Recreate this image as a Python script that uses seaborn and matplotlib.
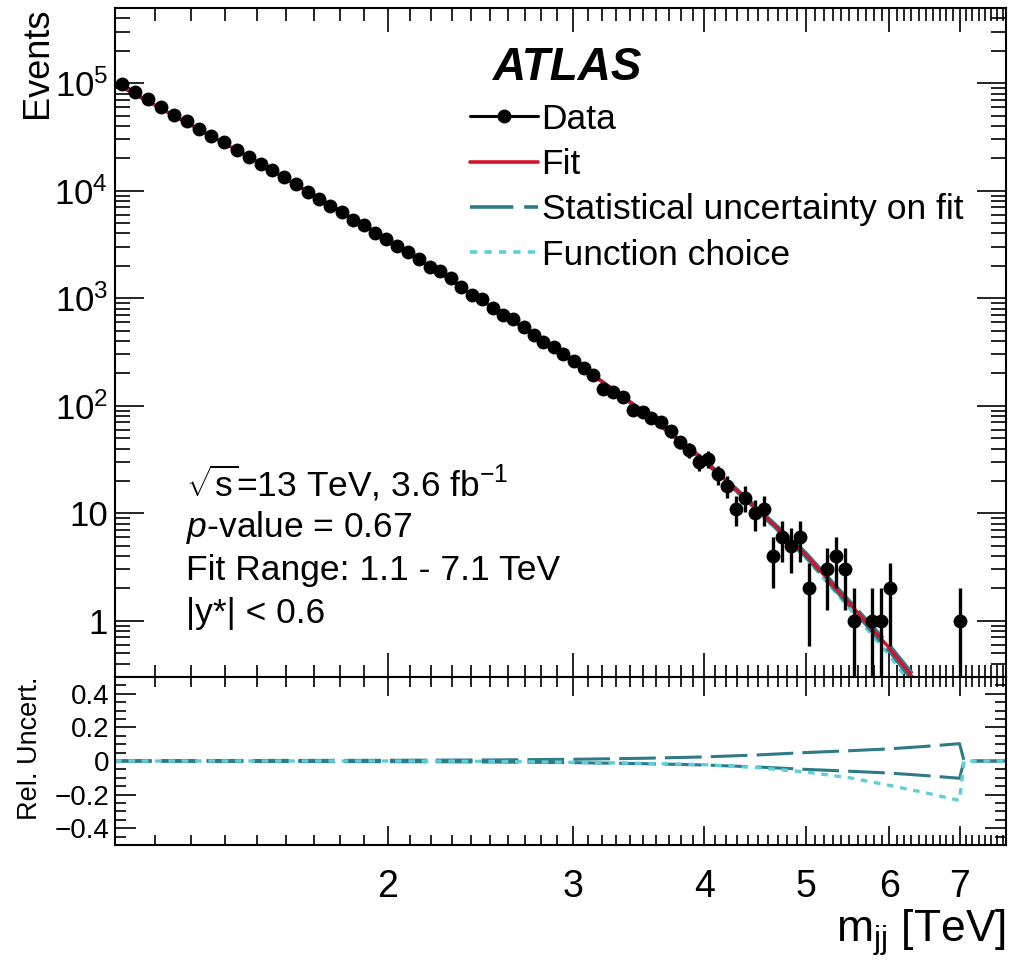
import numpy as np
import pandas as pd
import seaborn as sns
import matplotlib.pyplot as plt
from matplotlib.lines import Line2D
from matplotlib.ticker import FixedLocator, FuncFormatter, MultipleLocator, LogLocator, NullFormatter

# dijet mass bin centres [TeV] and events (empty bins left out)
mass = [1.116, 1.149, 1.183, 1.216, 1.252, 1.288, 1.322, 1.359, 1.397, 1.436,
        1.475, 1.514, 1.553, 1.592, 1.636, 1.678, 1.720, 1.763, 1.808, 1.855,
        1.900, 1.946, 1.994, 2.041, 2.090, 2.141, 2.192, 2.244, 2.295, 2.347,
        2.403, 2.460, 2.518, 2.574, 2.633, 2.693, 2.754, 2.813, 2.878, 2.939,
        3.006, 3.073, 3.138, 3.206, 3.274, 3.347, 3.421, 3.497, 3.564, 3.640,
        3.717, 3.794, 3.873, 3.952, 4.037, 4.120, 4.206, 4.290, 4.377, 4.467,
        4.556, 4.651, 4.747, 4.841, 4.938, 5.035, 5.239, 5.342, 5.449, 5.557,
        5.776, 5.892, 6.009, 7.003]
events = [97200, 82000, 70600, 59500, 50700, 44300, 37600, 32600, 28500, 23800,
          20500, 17900, 15500, 13300, 11500, 9700, 8410, 7240, 6330, 5330,
          4790, 4060, 3570, 3060, 2670, 2300, 1960, 1780, 1530, 1280,
          1080, 977, 806, 698, 641, 537, 455, 392, 354, 301,
          262, 226, 192, 143, 133, 121, 91, 88, 77, 70,
          58, 46, 39, 30, 32, 23, 18, 11, 14, 10,
          11, 4, 6, 5, 6, 2, 3, 4, 3, 1,
          1, 1, 2, 1]

# fit and relative uncertainties
fit_mass = [1.1, 1.5, 2.0, 2.5, 3.0, 3.5, 4.0, 4.5, 5.0, 5.5, 6.0, 6.5, 7.0]
fit_vals = [1.0e5, 1.88e4, 3530, 855, 265, 88, 31, 10.8, 4.1, 1.45, 0.56, 0.21, 0.08]
stat_unc = [0.002, 0.003, 0.004, 0.006, 0.010, 0.016, 0.024, 0.036, 0.050, 0.061, 0.072, 0.087, 0.103]
func_choice = [0.0, 0.0, 0.0, -0.002, -0.008, -0.014, -0.022, -0.040, -0.066, -0.100, -0.145, -0.190, -0.235]
# beyond the fit range the ratio panel drops back to zero
tail_mass = [7.07, 7.8]
tail_vals = [0.0, 0.0]

x_major = [2, 3, 4, 5, 6, 7]

sns.set_theme(style='ticks')
plt.rcParams['font.family'] = ['Liberation Sans', 'DejaVu Sans']
plt.rcParams['mathtext.fontset'] = 'custom'
plt.rcParams['mathtext.rm'] = 'Liberation Sans'
plt.rcParams['mathtext.it'] = 'Liberation Sans:italic'
plt.rcParams['mathtext.bf'] = 'Liberation Sans:bold'
plt.rcParams['axes.linewidth'] = 1.5
for key in ['text.color', 'axes.labelcolor', 'axes.edgecolor', 'xtick.color', 'ytick.color']:
    plt.rcParams[key] = 'black'

RED = '#d4122c'
TEAL = '#2e7b87'
CYAN = '#5ccfdb'
DASH = (0, (12, 3))
DOT = (0, (2, 2))

fig = plt.figure(figsize=(10.24, 9.66), dpi=100)
ax = fig.add_axes([0.1123, 0.2992, 0.8701, 0.6925])
axr = fig.add_axes([0.1123, 0.1253, 0.8701, 0.1739])
for a in (ax, axr):
    a.set_xscale('log')
ax.set_yscale('log')

fit = pd.DataFrame({'mass': fit_mass, 'fit': fit_vals,
                    'stat': stat_unc, 'func': func_choice})
fit['up'] = fit['fit'] * (1 + fit['stat'])
fit['down'] = fit['fit'] * (1 - fit['stat'])
fit['alt'] = fit['fit'] * (1 + fit['func'])
data = pd.DataFrame({'mass': mass, 'events': events})

# upper panel
sns.lineplot(data=fit, x='mass', y='alt', color=CYAN, lw=2.4, linestyle=DOT, ax=ax)
sns.lineplot(data=fit, x='mass', y='up', color=TEAL, lw=2.2, linestyle=DASH, ax=ax)
sns.lineplot(data=fit, x='mass', y='down', color=TEAL, lw=2.2, linestyle=DASH, ax=ax)
sns.lineplot(data=fit, x='mass', y='fit', color=RED, lw=2.4, ax=ax)
ax.errorbar(data['mass'], data['events'], yerr=np.sqrt(data['events']),
            fmt='none', ecolor='black', elinewidth=2.4, capsize=0, zorder=4)
sns.scatterplot(data=data, x='mass', y='events', color='black', s=100,
                linewidth=0, ax=ax, zorder=5)

# ratio panel
rel = pd.DataFrame({'mass': fit_mass + tail_mass,
                    'stat': stat_unc + tail_vals,
                    'func': func_choice + tail_vals})
rel['neg'] = -rel['stat']
sns.lineplot(data=rel, x='mass', y='stat', color=TEAL, lw=2.2, linestyle=DASH, ax=axr)
sns.lineplot(data=rel, x='mass', y='neg', color=TEAL, lw=2.2, linestyle=DASH, ax=axr)
sns.lineplot(data=rel, x='mass', y='func', color=CYAN, lw=2.4, linestyle=DOT, ax=axr)

xmin, xmax = 1.1, 7.75
x_minor = [round(v, 1) for v in np.arange(1.1, 7.75, 0.1) if round(v, 1) not in x_major]
for a in (ax, axr):
    a.set_xlim(xmin, xmax)
    a.xaxis.set_major_locator(FixedLocator(x_major))
    a.xaxis.set_minor_locator(FixedLocator(x_minor))
    a.xaxis.set_minor_formatter(NullFormatter())
    a.tick_params(which='both', direction='in', top=True, right=True, width=1.2)
    a.set_xlabel('')
    a.set_ylabel('')

ax.set_ylim(0.3, 5e5)
ax.yaxis.set_major_locator(LogLocator(base=10, numticks=10))
ax.yaxis.set_minor_locator(LogLocator(base=10, subs=np.arange(2, 10), numticks=20))
ax.yaxis.set_minor_formatter(NullFormatter())
ax.yaxis.set_major_formatter(FuncFormatter(
    lambda v, p: '1' if v == 1 else ('10' if v == 10 else r'$10^{%d}$' % round(np.log10(v)))))
ax.tick_params(axis='x', which='major', length=17, labelbottom=False)
ax.tick_params(axis='x', which='minor', length=9)
ax.tick_params(axis='y', which='major', length=21, labelsize=25, pad=5)
ax.tick_params(axis='y', which='minor', length=11)

axr.set_ylim(-0.5, 0.5)
axr.yaxis.set_major_locator(FixedLocator([-0.4, -0.2, 0, 0.2, 0.4]))
axr.yaxis.set_minor_locator(MultipleLocator(0.05))
axr.yaxis.set_major_formatter(FuncFormatter(
    lambda v, p: '0' if abs(v) < 1e-9 else ('%.1f' % v).replace('-', '\u2212')))
axr.xaxis.set_major_formatter(FuncFormatter(lambda v, p: '%g' % v))
axr.tick_params(axis='x', which='major', length=14, pad=17, labelsize=27)
axr.tick_params(axis='x', which='minor', length=7)
axr.tick_params(axis='y', which='major', length=15, labelsize=20, pad=4)
axr.tick_params(axis='y', which='minor', length=8)

ax.set_ylabel('Events', fontsize=26, loc='top')
ax.yaxis.set_label_coords(-0.067, 1.0)
axr.set_ylabel('Rel. Uncert.', fontsize=19.5, loc='top')
axr.yaxis.set_label_coords(-0.081, 1.0)
axr.set_xlabel(r'm$_{\rm jj}$ [TeV]', fontsize=32, loc='right')
axr.xaxis.set_label_coords(1.0, -0.37)

# labels
ax.text(0.424, 0.910, 'ATLAS', transform=ax.transAxes, fontsize=33,
        fontweight='bold', fontstyle='italic', va='center', ha='left')
info = [r'$\sqrt{\mathrm{s}}$=13 TeV, 3.6 fb$^{-1}$',
        r'$p$-value = 0.67',
        'Fit Range: 1.1 - 7.1 TeV',
        '|y*| < 0.6']
for txt, yb in zip(info, [0.2695, 0.2088, 0.145, 0.0803]):
    ax.text(0.080, yb, txt, transform=ax.transAxes, fontsize=25.5,
            va='baseline', ha='left')

handles = [Line2D([], [], color='black', marker='o', markersize=9, lw=2.2),
           Line2D([], [], color=RED, lw=2.6),
           Line2D([], [], color=TEAL, lw=2.6, linestyle=DASH),
           Line2D([], [], color=CYAN, lw=2.6, linestyle=DOT)]
labels = ['Data', 'Fit', 'Statistical uncertainty on fit', 'Function choice']
ax.legend(handles, labels, loc='upper left', bbox_to_anchor=(0.398, 0.8585),
          frameon=False, fontsize=25.5, handlelength=1.93, handletextpad=0.1,
          labelspacing=0.35, borderpad=0, borderaxespad=0)

fig.savefig('out.png', dpi=100)
